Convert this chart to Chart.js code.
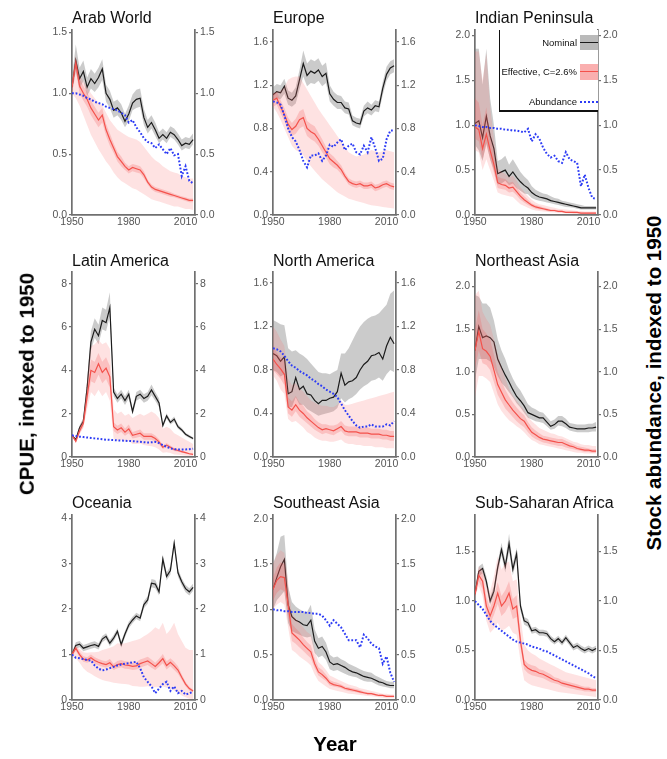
<!DOCTYPE html>
<html><head><meta charset="utf-8">
<script src="https://cdn.jsdelivr.net/npm/chart.js@4.4.1/dist/chart.umd.min.js"></script>
<style>
body{margin:0;background:#fff;}
#page{position:relative;width:667px;height:759px;overflow:hidden;background:#fff;font-family:"Liberation Sans",Arial,sans-serif;}
.panel{position:absolute;}
.ptitle{position:absolute;font-size:16px;line-height:16px;color:#111;white-space:nowrap;}
.big{position:absolute;font-weight:bold;font-size:20.5px;line-height:20.5px;white-space:nowrap;color:#000;}
.rot{transform:translate(-50%,-50%) rotate(-90deg);}
.leg{position:absolute;font-size:9.5px;line-height:10px;color:#111;white-space:nowrap;text-align:right;}
.ln{position:absolute;background:#111;}
</style></head>
<body><div id="page"></div>
<script>
const years = [1950,1952,1954,1956,1958,1960,1962,1964,1966,1968,1970,1972,1974,1976,1978,1980,1982,1984,1986,1988,1990,1992,1994,1996,1998,2000,2002,2004,2006,2008,2010,2012,2014];

// ---- Arab World
const arabNominal = [1.05,1.27,1.12,1.18,1.05,1.12,1.08,1.13,1.20,1.00,0.95,0.86,0.88,0.84,0.77,0.83,0.92,0.95,0.96,0.80,0.72,0.76,0.70,0.63,0.66,0.63,0.68,0.66,0.62,0.57,0.59,0.58,0.62];
const arabNominalLow = [1.00,1.18,1.04,1.10,0.98,1.04,1.01,1.05,1.11,0.93,0.88,0.80,0.82,0.78,0.72,0.77,0.86,0.88,0.89,0.74,0.67,0.71,0.65,0.59,0.62,0.59,0.64,0.62,0.58,0.53,0.55,0.54,0.58];
const arabNominalHigh = [1.12,1.40,1.21,1.27,1.13,1.20,1.16,1.21,1.28,1.07,1.02,0.93,0.95,0.91,0.83,0.90,0.99,1.03,1.04,0.87,0.78,0.82,0.76,0.68,0.71,0.68,0.73,0.71,0.67,0.62,0.64,0.63,0.67];
const arabEffective = [1.05,1.25,1.06,1.00,0.95,0.88,0.83,0.78,0.82,0.70,0.62,0.55,0.48,0.44,0.40,0.37,0.39,0.38,0.37,0.33,0.27,0.23,0.21,0.20,0.19,0.18,0.17,0.16,0.15,0.14,0.13,0.12,0.12];
const arabEffInnerLow = [1.00,1.19,1.00,0.94,0.89,0.82,0.77,0.72,0.76,0.65,0.57,0.51,0.44,0.40,0.37,0.34,0.36,0.35,0.34,0.30,0.25,0.21,0.19,0.18,0.17,0.16,0.15,0.145,0.135,0.125,0.115,0.105,0.105];
const arabEffInnerHigh = [1.10,1.31,1.12,1.06,1.01,0.94,0.89,0.84,0.88,0.75,0.67,0.59,0.52,0.48,0.43,0.40,0.42,0.41,0.40,0.36,0.29,0.25,0.23,0.22,0.21,0.20,0.19,0.175,0.165,0.155,0.145,0.135,0.135];
const arabEffOuterLow = [1.00,0.96,0.90,0.82,0.74,0.66,0.60,0.54,0.49,0.44,0.40,0.35,0.31,0.28,0.26,0.24,0.22,0.21,0.19,0.17,0.15,0.13,0.12,0.11,0.10,0.09,0.08,0.07,0.07,0.06,0.05,0.05,0.04];
const arabEffOuterHigh = [1.12,1.28,1.14,1.10,1.05,1.00,0.96,0.92,0.90,0.84,0.78,0.74,0.70,0.68,0.66,0.64,0.63,0.62,0.60,0.56,0.52,0.48,0.45,0.43,0.40,0.38,0.36,0.35,0.34,0.32,0.31,0.30,0.30];
const arabAbundance = [1.00,1.00,0.99,0.98,0.96,0.95,0.93,0.92,0.91,0.89,0.88,0.87,0.86,0.84,0.82,0.76,0.78,0.72,0.68,0.63,0.60,0.59,0.55,0.58,0.54,0.50,0.55,0.49,0.50,0.32,0.40,0.28,0.26];

// ---- Europe
const euNominal = [1.11,1.14,1.13,1.19,1.08,1.06,1.10,1.25,1.40,1.29,1.33,1.31,1.34,1.28,1.31,1.12,1.07,1.04,1.04,0.99,0.98,0.87,0.85,0.84,0.96,0.99,0.97,1.01,1.00,1.17,1.30,1.36,1.38];
const euNominalLow = [1.05,1.08,1.07,1.12,1.02,1.00,1.03,1.16,1.28,1.19,1.22,1.21,1.24,1.19,1.22,1.05,1.01,0.98,0.98,0.94,0.93,0.83,0.81,0.80,0.91,0.94,0.92,0.96,0.95,1.11,1.24,1.30,1.32];
const euNominalHigh = [1.18,1.21,1.20,1.26,1.15,1.13,1.18,1.34,1.52,1.40,1.44,1.42,1.45,1.38,1.41,1.20,1.14,1.11,1.10,1.05,1.04,0.92,0.90,0.89,1.01,1.05,1.02,1.06,1.05,1.23,1.37,1.42,1.44];
const euEffective = [1.06,1.08,1.00,0.93,0.84,0.79,0.82,0.88,0.90,0.80,0.77,0.75,0.70,0.64,0.58,0.52,0.49,0.46,0.42,0.36,0.31,0.29,0.28,0.29,0.27,0.27,0.28,0.25,0.26,0.28,0.29,0.27,0.26];
const euEffInnerLow = [1.00,1.02,0.94,0.87,0.78,0.73,0.75,0.80,0.82,0.73,0.70,0.68,0.64,0.58,0.53,0.47,0.44,0.42,0.38,0.33,0.28,0.26,0.25,0.26,0.24,0.24,0.25,0.22,0.23,0.25,0.26,0.24,0.23];
const euEffInnerHigh = [1.12,1.14,1.06,0.99,0.90,0.85,0.89,0.96,0.98,0.87,0.84,0.82,0.76,0.70,0.63,0.57,0.54,0.50,0.46,0.39,0.34,0.32,0.31,0.32,0.30,0.30,0.31,0.28,0.29,0.31,0.32,0.30,0.29];
const euEffOuterLow = [1.00,0.95,0.88,0.80,0.72,0.64,0.60,0.58,0.55,0.50,0.45,0.41,0.37,0.33,0.30,0.27,0.24,0.21,0.19,0.17,0.15,0.14,0.13,0.12,0.11,0.10,0.09,0.085,0.08,0.075,0.07,0.065,0.06];
const euEffOuterHigh = [1.12,1.14,1.15,1.18,1.25,1.27,1.28,1.28,1.22,1.16,1.10,1.04,0.98,0.93,0.88,0.83,0.78,0.73,0.68,0.63,0.58,0.56,0.54,0.55,0.56,0.58,0.60,0.59,0.58,0.59,0.60,0.59,0.58];
const euAbundance = [1.05,1.04,1.02,0.92,0.80,0.72,0.68,0.60,0.50,0.44,0.55,0.55,0.57,0.50,0.55,0.65,0.63,0.67,0.70,0.60,0.64,0.66,0.58,0.56,0.64,0.58,0.72,0.62,0.50,0.52,0.70,0.78,0.78];

// ---- Indian Peninsula
const inNominal = [1.02,1.05,0.86,1.10,0.88,0.74,0.46,0.48,0.50,0.43,0.48,0.42,0.37,0.33,0.30,0.25,0.22,0.20,0.19,0.18,0.16,0.15,0.14,0.13,0.12,0.11,0.10,0.09,0.08,0.08,0.08,0.08,0.08];
const inNominalLow = [0.78,0.72,0.60,0.80,0.62,0.50,0.34,0.35,0.38,0.33,0.35,0.30,0.27,0.24,0.23,0.19,0.17,0.16,0.15,0.14,0.13,0.12,0.11,0.10,0.09,0.085,0.08,0.07,0.06,0.06,0.06,0.06,0.06];
const inNominalHigh = [1.85,1.85,1.45,1.85,1.30,1.00,0.60,0.62,0.66,0.56,0.62,0.55,0.48,0.43,0.39,0.32,0.28,0.26,0.24,0.23,0.21,0.19,0.18,0.16,0.15,0.14,0.13,0.12,0.11,0.10,0.10,0.10,0.10];
const inEffective = [0.98,0.95,0.74,0.90,0.72,0.56,0.36,0.34,0.33,0.30,0.31,0.26,0.21,0.17,0.14,0.11,0.09,0.08,0.07,0.06,0.05,0.05,0.04,0.04,0.03,0.03,0.03,0.03,0.02,0.02,0.02,0.02,0.02];
const inEffInnerLow = [0.85,0.82,0.62,0.78,0.62,0.47,0.30,0.29,0.28,0.25,0.26,0.22,0.17,0.14,0.11,0.09,0.07,0.06,0.055,0.045,0.04,0.04,0.03,0.03,0.025,0.025,0.02,0.02,0.015,0.015,0.015,0.015,0.015];
const inEffInnerHigh = [1.30,1.25,1.00,1.20,0.90,0.68,0.43,0.41,0.40,0.36,0.37,0.31,0.25,0.21,0.17,0.13,0.11,0.10,0.085,0.075,0.065,0.06,0.05,0.05,0.04,0.04,0.04,0.035,0.03,0.03,0.03,0.03,0.03];
const inEffOuterLow = [0.72,0.70,0.50,0.62,0.50,0.38,0.25,0.23,0.22,0.21,0.20,0.16,0.12,0.10,0.08,0.06,0.05,0.045,0.04,0.035,0.03,0.028,0.025,0.022,0.02,0.018,0.015,0.013,0.01,0.01,0.01,0.01,0.01];
const inEffOuterHigh = [1.82,1.82,1.50,1.80,1.20,0.85,0.52,0.48,0.46,0.42,0.44,0.38,0.31,0.26,0.21,0.17,0.14,0.12,0.11,0.10,0.09,0.08,0.07,0.065,0.06,0.055,0.05,0.045,0.045,0.04,0.04,0.04,0.04];
const inAbundance = [1.00,0.99,0.98,0.98,0.97,0.97,0.96,0.96,0.95,0.95,0.94,0.94,0.93,0.92,0.96,0.82,0.90,0.85,0.75,0.68,0.64,0.66,0.60,0.58,0.70,0.62,0.60,0.58,0.32,0.45,0.30,0.19,0.18];

// ---- Latin America
const laNominal = [1.00,0.80,1.35,1.65,3.20,5.30,5.90,5.60,6.30,6.20,6.90,3.00,2.70,2.90,2.60,2.90,2.10,2.80,2.90,2.70,2.80,3.10,2.80,2.50,1.45,1.90,1.60,1.75,1.40,1.25,1.05,0.95,0.85];
const laNominalLow = [0.95,0.75,1.25,1.50,2.90,4.90,5.50,5.20,5.90,5.80,6.50,2.80,2.50,2.70,2.40,2.70,1.95,2.60,2.70,2.50,2.60,2.85,2.60,2.30,1.35,1.78,1.50,1.63,1.30,1.16,0.98,0.88,0.79];
const laNominalHigh = [1.05,0.85,1.45,1.80,3.50,5.80,6.40,6.10,6.90,6.80,7.60,3.20,2.90,3.10,2.80,3.10,2.25,3.00,3.10,2.90,3.00,3.35,3.00,2.70,1.55,2.02,1.70,1.87,1.50,1.34,1.12,1.02,0.91];
const laEffective = [1.00,0.72,1.20,1.55,2.80,4.00,3.90,4.30,3.90,4.10,3.70,1.40,1.25,1.35,1.15,1.30,1.00,1.05,1.10,0.95,0.95,0.95,0.85,0.70,0.45,0.55,0.45,0.35,0.30,0.25,0.20,0.15,0.12];
const laEffInnerLow = [0.95,0.66,1.08,1.38,2.45,3.50,3.40,3.80,3.40,3.60,3.20,1.20,1.06,1.15,0.98,1.10,0.85,0.89,0.93,0.80,0.80,0.80,0.71,0.58,0.37,0.45,0.37,0.28,0.24,0.20,0.16,0.12,0.095];
const laEffInnerHigh = [1.05,0.78,1.32,1.72,3.15,4.50,4.40,4.80,4.40,4.60,4.20,1.60,1.44,1.55,1.32,1.50,1.15,1.21,1.27,1.10,1.10,1.10,0.99,0.82,0.53,0.65,0.53,0.42,0.36,0.30,0.24,0.18,0.145];
const laEffOuterLow = [1.00,0.65,1.05,1.35,2.20,3.00,2.80,3.10,2.80,3.00,2.60,0.85,0.75,0.80,0.70,0.75,0.60,0.60,0.62,0.55,0.52,0.50,0.45,0.35,0.20,0.22,0.18,0.12,0.10,0.08,0.06,0.05,0.04];
const laEffOuterHigh = [1.00,0.80,1.40,1.80,3.50,5.10,5.20,5.40,5.20,5.30,5.00,2.20,2.00,2.10,1.90,2.00,1.80,1.90,2.00,1.90,2.00,2.10,2.00,1.80,1.30,1.40,1.30,1.10,1.00,0.90,0.80,0.70,0.60];
const laAbundance = [1.00,0.97,0.94,0.92,0.90,0.88,0.86,0.84,0.82,0.80,0.79,0.78,0.77,0.76,0.75,0.74,0.73,0.72,0.70,0.68,0.67,0.68,0.70,0.64,0.55,0.47,0.40,0.36,0.35,0.35,0.35,0.36,0.38];

// ---- North America
const naNominal = [0.95,0.93,0.88,0.92,0.58,0.60,0.73,0.62,0.65,0.58,0.57,0.52,0.49,0.52,0.52,0.54,0.55,0.60,0.77,0.66,0.69,0.70,0.73,0.80,0.85,0.88,0.93,0.94,0.96,0.90,1.02,1.10,1.04];
const naNominalLow = [0.80,0.78,0.74,0.76,0.46,0.46,0.55,0.48,0.48,0.44,0.42,0.40,0.38,0.39,0.40,0.41,0.42,0.45,0.54,0.50,0.53,0.55,0.58,0.62,0.65,0.67,0.70,0.71,0.73,0.70,0.76,0.80,0.78];
const naNominalHigh = [1.26,1.24,1.22,1.21,1.00,0.97,0.98,0.95,0.93,0.90,0.86,0.82,0.78,0.77,0.77,0.76,0.78,0.80,0.95,0.95,1.00,1.07,1.14,1.20,1.24,1.27,1.29,1.30,1.32,1.36,1.40,1.50,1.53];
const naEffective = [0.90,0.85,0.81,0.76,0.46,0.43,0.48,0.43,0.40,0.36,0.33,0.30,0.27,0.25,0.26,0.25,0.24,0.26,0.28,0.24,0.23,0.23,0.23,0.22,0.22,0.22,0.21,0.21,0.21,0.20,0.20,0.19,0.19];
const naEffInnerLow = [0.80,0.76,0.72,0.66,0.40,0.37,0.42,0.37,0.34,0.31,0.28,0.25,0.23,0.21,0.22,0.21,0.20,0.22,0.24,0.20,0.19,0.19,0.19,0.18,0.18,0.18,0.17,0.17,0.17,0.16,0.16,0.15,0.15];
const naEffInnerHigh = [1.02,0.96,0.92,0.88,0.55,0.51,0.56,0.50,0.47,0.42,0.39,0.35,0.32,0.30,0.30,0.29,0.29,0.30,0.33,0.29,0.28,0.28,0.28,0.27,0.27,0.27,0.26,0.26,0.26,0.25,0.25,0.24,0.24];
const naEffOuterLow = [0.75,0.70,0.62,0.58,0.35,0.32,0.33,0.30,0.27,0.23,0.21,0.18,0.16,0.15,0.15,0.14,0.14,0.15,0.16,0.13,0.12,0.12,0.11,0.11,0.10,0.10,0.10,0.09,0.09,0.09,0.08,0.08,0.08];
const naEffOuterHigh = [1.20,1.15,1.08,1.02,0.72,0.66,0.68,0.63,0.60,0.56,0.52,0.50,0.48,0.47,0.47,0.46,0.46,0.48,0.52,0.48,0.48,0.49,0.50,0.51,0.52,0.53,0.54,0.55,0.56,0.57,0.58,0.59,0.60];
const naAbundance = [1.00,0.99,0.97,0.93,0.88,0.84,0.82,0.79,0.77,0.75,0.72,0.70,0.67,0.65,0.62,0.60,0.58,0.55,0.49,0.43,0.38,0.33,0.29,0.27,0.28,0.28,0.30,0.28,0.28,0.28,0.30,0.29,0.33];

// ---- Northeast Asia
const neNominal = [1.25,1.53,1.40,1.42,1.40,1.35,1.15,1.05,0.96,0.88,0.79,0.71,0.66,0.60,0.52,0.50,0.48,0.46,0.46,0.41,0.36,0.38,0.42,0.42,0.39,0.35,0.34,0.33,0.33,0.33,0.34,0.34,0.35];
const neNominalLow = [0.90,1.15,1.15,1.15,1.12,1.05,0.95,0.87,0.82,0.76,0.70,0.63,0.58,0.52,0.46,0.44,0.42,0.41,0.40,0.36,0.32,0.33,0.37,0.36,0.34,0.31,0.30,0.29,0.29,0.29,0.29,0.30,0.30];
const neNominalHigh = [1.90,1.88,1.80,1.80,1.75,1.60,1.38,1.25,1.15,1.02,0.92,0.84,0.78,0.70,0.62,0.58,0.56,0.53,0.52,0.47,0.42,0.44,0.48,0.48,0.45,0.40,0.39,0.38,0.38,0.38,0.39,0.39,0.41];
const neEffective = [1.25,1.47,1.27,1.24,1.18,1.02,0.85,0.76,0.67,0.61,0.55,0.50,0.45,0.42,0.35,0.29,0.26,0.23,0.21,0.20,0.19,0.18,0.17,0.17,0.15,0.13,0.12,0.10,0.09,0.08,0.08,0.07,0.07];
const neEffInnerLow = [1.05,1.25,1.10,1.08,1.02,0.88,0.73,0.65,0.57,0.52,0.47,0.42,0.38,0.35,0.29,0.24,0.21,0.19,0.17,0.16,0.15,0.14,0.13,0.13,0.11,0.10,0.09,0.08,0.07,0.06,0.06,0.05,0.05];
const neEffInnerHigh = [1.50,1.72,1.50,1.45,1.38,1.20,1.00,0.89,0.79,0.71,0.64,0.58,0.53,0.49,0.41,0.35,0.31,0.28,0.25,0.24,0.23,0.22,0.21,0.21,0.19,0.17,0.15,0.13,0.12,0.11,0.10,0.09,0.09];
const neEffOuterLow = [0.70,0.95,0.95,0.92,0.88,0.75,0.62,0.54,0.48,0.43,0.40,0.36,0.33,0.29,0.24,0.20,0.18,0.15,0.14,0.13,0.12,0.11,0.10,0.09,0.08,0.07,0.06,0.05,0.05,0.04,0.04,0.04,0.04];
const neEffOuterHigh = [1.90,1.95,1.70,1.62,1.55,1.38,1.20,1.05,0.92,0.80,0.72,0.66,0.60,0.55,0.48,0.42,0.38,0.34,0.32,0.30,0.28,0.27,0.25,0.24,0.22,0.20,0.18,0.17,0.15,0.14,0.14,0.13,0.13];

// ---- Oceania
const ocNominal = [1.00,1.20,1.23,1.14,1.17,1.20,1.22,1.18,1.34,1.40,1.25,1.36,1.51,1.22,1.45,1.65,1.76,1.85,1.80,2.10,2.20,2.57,2.55,2.38,3.10,2.72,2.85,3.45,2.80,2.60,2.45,2.38,2.48];
const ocNominalLow = [0.95,1.13,1.16,1.07,1.10,1.13,1.15,1.11,1.27,1.33,1.18,1.29,1.44,1.15,1.38,1.58,1.69,1.78,1.73,2.02,2.12,2.48,2.46,2.30,3.00,2.63,2.76,3.35,2.71,2.52,2.37,2.30,2.40];
const ocNominalHigh = [1.05,1.27,1.30,1.21,1.24,1.27,1.29,1.25,1.41,1.47,1.32,1.43,1.58,1.29,1.52,1.72,1.83,1.92,1.87,2.18,2.28,2.66,2.64,2.46,3.20,2.81,2.94,3.55,2.89,2.68,2.53,2.46,2.56];
const ocEffective = [1.00,1.14,1.00,0.90,0.88,0.93,0.87,0.83,0.80,0.78,0.82,0.73,0.78,0.80,0.77,0.76,0.74,0.75,0.80,0.83,0.86,0.80,0.74,0.82,0.91,0.76,0.83,0.75,0.66,0.50,0.35,0.25,0.20];
const ocEffInnerLow = [0.96,1.08,0.94,0.84,0.82,0.86,0.80,0.76,0.73,0.71,0.74,0.66,0.70,0.72,0.69,0.68,0.66,0.67,0.71,0.74,0.77,0.71,0.66,0.73,0.81,0.67,0.74,0.66,0.58,0.44,0.30,0.21,0.17];
const ocEffInnerHigh = [1.04,1.20,1.06,0.96,0.94,1.00,0.94,0.90,0.87,0.85,0.90,0.80,0.86,0.88,0.85,0.84,0.82,0.83,0.89,0.92,0.95,0.89,0.82,0.91,1.01,0.85,0.92,0.84,0.74,0.56,0.40,0.29,0.23];
const ocEffOuterLow = [0.95,0.92,0.82,0.70,0.62,0.58,0.52,0.48,0.44,0.42,0.40,0.38,0.37,0.36,0.35,0.34,0.31,0.30,0.29,0.29,0.30,0.29,0.28,0.28,0.30,0.27,0.25,0.21,0.16,0.10,0.06,0.03,0.02];
const ocEffOuterHigh = [1.05,1.18,1.12,1.05,1.04,1.05,1.05,1.06,1.10,1.12,1.15,1.18,1.25,1.24,1.25,1.27,1.30,1.32,1.35,1.40,1.45,1.52,1.60,1.55,1.70,1.45,1.55,1.70,1.45,1.30,1.15,1.10,1.10];
const ocAbundance = [1.00,0.93,0.92,0.90,0.88,0.87,0.76,0.69,0.65,0.67,0.70,0.73,0.76,0.78,0.80,0.81,0.83,0.84,0.70,0.50,0.40,0.30,0.15,0.25,0.35,0.40,0.20,0.30,0.15,0.20,0.12,0.15,0.18];

// ---- Southeast Asia
const seNominal = [1.22,1.35,1.47,1.55,1.05,0.92,0.88,0.86,0.83,0.82,0.88,0.65,0.57,0.59,0.53,0.42,0.39,0.40,0.38,0.36,0.33,0.31,0.30,0.28,0.26,0.25,0.24,0.22,0.20,0.19,0.17,0.16,0.16];
const seNominalLow = [1.00,1.10,1.15,1.20,0.85,0.76,0.74,0.72,0.70,0.69,0.70,0.52,0.47,0.49,0.44,0.34,0.32,0.33,0.31,0.29,0.27,0.26,0.25,0.23,0.21,0.20,0.20,0.18,0.16,0.15,0.14,0.13,0.13];
const seNominalHigh = [1.50,1.62,1.80,1.82,1.25,1.08,1.03,1.00,0.98,0.97,1.05,0.78,0.68,0.70,0.63,0.50,0.47,0.48,0.45,0.43,0.40,0.38,0.36,0.34,0.32,0.31,0.30,0.27,0.25,0.23,0.21,0.20,0.20];
const seEffective = [1.22,1.32,1.36,1.35,1.05,0.74,0.70,0.66,0.61,0.57,0.53,0.40,0.31,0.28,0.24,0.19,0.17,0.16,0.15,0.13,0.12,0.11,0.10,0.09,0.08,0.07,0.07,0.06,0.05,0.05,0.04,0.04,0.04];
const seEffInnerLow = [1.10,1.18,1.22,1.20,0.93,0.65,0.62,0.58,0.54,0.50,0.46,0.35,0.27,0.24,0.21,0.16,0.15,0.14,0.13,0.11,0.10,0.09,0.085,0.075,0.065,0.06,0.06,0.05,0.04,0.04,0.035,0.035,0.035];
const seEffInnerHigh = [1.35,1.46,1.52,1.50,1.18,0.84,0.79,0.75,0.69,0.64,0.60,0.46,0.36,0.33,0.28,0.22,0.20,0.19,0.17,0.15,0.14,0.13,0.12,0.11,0.095,0.085,0.08,0.07,0.06,0.06,0.05,0.05,0.05];
const seEffOuterLow = [1.00,1.05,1.08,1.05,0.80,0.55,0.52,0.48,0.45,0.42,0.38,0.28,0.21,0.18,0.15,0.12,0.11,0.10,0.09,0.08,0.07,0.065,0.06,0.055,0.05,0.045,0.04,0.035,0.03,0.025,0.02,0.02,0.02];
const seEffOuterHigh = [1.50,1.60,1.65,1.62,1.30,0.95,0.90,0.85,0.80,0.75,0.72,0.55,0.42,0.38,0.33,0.27,0.25,0.23,0.21,0.19,0.17,0.16,0.15,0.13,0.12,0.11,0.10,0.09,0.08,0.07,0.07,0.06,0.06];
const seAbundance = [1.00,0.99,0.99,0.98,0.98,0.97,0.97,0.97,0.97,0.96,0.96,0.95,0.95,0.93,0.88,0.82,0.88,0.84,0.80,0.73,0.66,0.66,0.66,0.58,0.72,0.68,0.62,0.59,0.57,0.40,0.48,0.30,0.20];

// ---- Sub-Saharan Africa
const ssNominal = [1.07,1.30,1.33,1.20,1.00,1.10,1.34,1.52,1.35,1.58,1.32,1.48,0.95,0.80,0.78,0.70,0.71,0.68,0.68,0.67,0.62,0.59,0.62,0.58,0.63,0.58,0.53,0.55,0.52,0.50,0.52,0.50,0.52];
const ssNominalLow = [1.03,1.25,1.28,1.15,0.96,1.05,1.29,1.46,1.29,1.50,1.26,1.42,0.90,0.76,0.74,0.67,0.68,0.65,0.65,0.64,0.59,0.56,0.59,0.55,0.60,0.55,0.50,0.52,0.49,0.47,0.49,0.47,0.49];
const ssNominalHigh = [1.11,1.35,1.38,1.25,1.04,1.15,1.39,1.59,1.41,1.68,1.38,1.54,1.00,0.84,0.82,0.73,0.74,0.71,0.71,0.70,0.65,0.62,0.65,0.61,0.66,0.61,0.56,0.58,0.55,0.53,0.55,0.53,0.55];
const ssEffective = [1.07,1.26,1.20,0.95,0.85,0.95,1.08,0.95,1.00,1.08,0.92,0.95,0.60,0.36,0.32,0.30,0.29,0.27,0.26,0.24,0.22,0.20,0.19,0.17,0.16,0.15,0.14,0.13,0.12,0.11,0.11,0.10,0.10];
const ssEffInnerLow = [1.03,1.20,1.12,0.86,0.77,0.86,0.97,0.85,0.89,0.96,0.82,0.84,0.53,0.31,0.27,0.25,0.24,0.23,0.22,0.20,0.18,0.17,0.16,0.14,0.13,0.12,0.11,0.10,0.095,0.085,0.085,0.08,0.08];
const ssEffInnerHigh = [1.11,1.32,1.28,1.04,0.93,1.04,1.19,1.05,1.11,1.20,1.02,1.06,0.67,0.41,0.37,0.35,0.34,0.31,0.30,0.28,0.26,0.23,0.22,0.20,0.19,0.18,0.17,0.16,0.145,0.135,0.135,0.12,0.12];
const ssEffOuterLow = [1.05,1.15,1.05,0.80,0.68,0.72,0.78,0.70,0.72,0.75,0.68,0.66,0.40,0.20,0.17,0.15,0.14,0.13,0.12,0.11,0.10,0.09,0.08,0.075,0.07,0.065,0.06,0.055,0.05,0.045,0.04,0.035,0.03];
const ssEffOuterHigh = [1.10,1.35,1.32,1.15,1.10,1.25,1.45,1.32,1.38,1.40,1.20,1.22,0.85,0.56,0.50,0.47,0.45,0.42,0.40,0.38,0.36,0.34,0.32,0.30,0.28,0.27,0.26,0.25,0.24,0.23,0.22,0.21,0.20];
const ssAbundance = [1.00,0.96,0.92,0.86,0.80,0.76,0.73,0.70,0.67,0.64,0.61,0.59,0.58,0.57,0.56,0.54,0.53,0.52,0.50,0.49,0.47,0.45,0.43,0.41,0.39,0.37,0.35,0.33,0.31,0.29,0.27,0.24,0.22];

// Panel titles and y-axis tick settings
const panelTitles = ["Arab World","Europe","Indian Peninsula","Latin America","North America","Northeast Asia","Oceania","Southeast Asia","Sub-Saharan Africa"];
const yMaxes = [1.52,1.71,2.06,8.54,1.70,2.17,4.07,2.04,1.87];
const yStepSizes = [0.5,0.4,0.5,2,0.4,0.5,1,0.5,0.5];
const yDecimals = [1,1,1,0,1,1,0,1,1];
const xTicks = [1950,1980,2010];

const panelSeries = [
 [arabNominal,arabNominalLow,arabNominalHigh,arabEffective,arabEffInnerLow,arabEffInnerHigh,arabEffOuterLow,arabEffOuterHigh,arabAbundance],
 [euNominal,euNominalLow,euNominalHigh,euEffective,euEffInnerLow,euEffInnerHigh,euEffOuterLow,euEffOuterHigh,euAbundance],
 [inNominal,inNominalLow,inNominalHigh,inEffective,inEffInnerLow,inEffInnerHigh,inEffOuterLow,inEffOuterHigh,inAbundance],
 [laNominal,laNominalLow,laNominalHigh,laEffective,laEffInnerLow,laEffInnerHigh,laEffOuterLow,laEffOuterHigh,laAbundance],
 [naNominal,naNominalLow,naNominalHigh,naEffective,naEffInnerLow,naEffInnerHigh,naEffOuterLow,naEffOuterHigh,naAbundance],
 [neNominal,neNominalLow,neNominalHigh,neEffective,neEffInnerLow,neEffInnerHigh,neEffOuterLow,neEffOuterHigh,null],
 [ocNominal,ocNominalLow,ocNominalHigh,ocEffective,ocEffInnerLow,ocEffInnerHigh,ocEffOuterLow,ocEffOuterHigh,ocAbundance],
 [seNominal,seNominalLow,seNominalHigh,seEffective,seEffInnerLow,seEffInnerHigh,seEffOuterLow,seEffOuterHigh,seAbundance],
 [ssNominal,ssNominalLow,ssNominalHigh,ssEffective,ssEffInnerLow,ssEffInnerHigh,ssEffOuterLow,ssEffOuterHigh,ssAbundance]
];

// ---- layout (page pixels)
const colLeft = [72, 273, 475];
const rowTop = [30, 272, 515];
const titleTop = [9.5, 253, 495];
const plotW = 123, plotH = 185, padL = 40, padR = 40, padT = 30, padB = 22;

const FONT = '"Liberation Sans", Arial, sans-serif';
const AXIS = '#707070';
const TICKC = '#555555';
const page = document.getElementById('page');

function xy(arr){ return arr.map((v,i)=>({x:years[i], y:v})); }
function ds(arr, o){
  return Object.assign({data:xy(arr), pointRadius:0, borderWidth:0, borderColor:'rgba(0,0,0,0)', tension:0, fill:false, yAxisID:'y', xAxisID:'x'}, o);
}
function yAxis(pos, i){
  return {
    type:'linear', position:pos, min:0, max:yMaxes[i], display:true,
    border:{display:true, color:AXIS, width:1.7},
    grid:{drawOnChartArea:false, drawTicks:true, tickLength:3, color:AXIS, lineWidth:1.2},
    ticks:{stepSize:yStepSizes[i], includeBounds:false, color:TICKC, font:{family:FONT, size:10.5}, padding:2,
           callback:v=>Number(v).toFixed(yDecimals[i])},
    afterFit:s=>{s.width = (pos==='left'?padL:padR);}
  };
}

for (let i=0;i<9;i++){
  const r = Math.floor(i/3), c = i%3;
  const [nom,nomLo,nomHi,eff,inLo,inHi,outLo,outHi,ab] = panelSeries[i];
  const cv = document.createElement('canvas');
  cv.width = padL+plotW+padR; cv.height = padT+plotH+padB;
  cv.className = 'panel';
  cv.style.left = (colLeft[c]-padL)+'px';
  cv.style.top = (rowTop[r]-padT)+'px';
  cv.style.width = cv.width+'px'; cv.style.height = cv.height+'px';
  page.appendChild(cv);

  const t = document.createElement('div');
  t.className='ptitle'; t.textContent = panelTitles[i];
  t.style.left = colLeft[c]+'px'; t.style.top = titleTop[r]+'px';
  page.appendChild(t);

  const datasets = [
    ds(nomLo,{order:9}),
    ds(nomHi,{order:8, fill:'-1', backgroundColor:'rgba(130,130,130,0.42)'}),
    ds(nom,{order:7, borderColor:'#1c1c1c', borderWidth:1.2}),
    ds(outLo,{order:6}),
    ds(outHi,{order:5, fill:'-1', backgroundColor:'rgba(250,110,110,0.2)'}),
    ds(inLo,{order:4}),
    ds(inHi,{order:3, fill:'-1', backgroundColor:'rgba(245,90,90,0.25)'}),
    ds(eff,{order:2, borderColor:'#f4524c', borderWidth:1.2})
  ];
  if (ab) datasets.push(ds(ab,{order:1, borderColor:'#2d3cf5', borderWidth:2, borderDash:[1.8,1.8], borderCapStyle:'butt'}));

  new Chart(cv, {
    type:'line',
    data:{datasets},
    options:{
      responsive:false, animation:false, events:[], devicePixelRatio:1,
      layout:{padding:{top:padT, left:0, right:0, bottom:0}},
      plugins:{legend:{display:false}, tooltip:{enabled:false}, title:{display:false}},
      scales:{
        x:{type:'linear', min:1950, max:2015,
           border:{display:true, color:AXIS, width:1.7},
           grid:{drawOnChartArea:false, drawTicks:false},
           ticks:{stepSize:30, includeBounds:false, color:TICKC, font:{family:FONT,size:10.5}, padding:1,
                  maxRotation:0, autoSkip:false, callback:v=>xTicks.includes(v)?String(v):''},
           afterFit:s=>{s.height = padB;}},
        y:yAxis('left', i),
        y2:yAxis('right', i)
      }
    }
  });
}

// ---- legend (inside Indian Peninsula panel)
function addLine(x,y,w,h,color){ const d=document.createElement('div'); d.className='ln'; d.style.left=x+'px'; d.style.top=y+'px'; d.style.width=w+'px'; d.style.height=h+'px'; if(color) d.style.background=color; page.appendChild(d); return d; }
addLine(499,30,99,81,'#fff');
addLine(498.5,30,1.5,81,'#111');
addLine(498.5,110,99.5,1.5,'#111');
const legendItems = [["Nominal",43],["Effective, C=2.6%",72],["Abundance",101.5]];
legendItems.forEach(([txt,y])=>{
  const d=document.createElement('div'); d.className='leg'; d.textContent=txt;
  d.style.right=(667-577)+'px'; d.style.top=(y-5)+'px'; page.appendChild(d);
});
addLine(580,35,18,15,'rgba(130,130,130,0.55)');
addLine(580,42,18,1.4,'#1c1c1c');
addLine(580,63.5,18,16.5,'rgba(245,95,95,0.5)');
addLine(580,71,18,1.4,'#f4524c');
const dots = addLine(580,100.5,18,2,'transparent');
dots.style.background = 'repeating-linear-gradient(90deg,#2d3cf5 0 2px,transparent 2px 4px)';

// ---- axis titles
function big(txt, x, y, rot){ const d=document.createElement('div'); d.className='big'+(rot?' rot':''); d.textContent=txt; d.style.left=x+'px'; d.style.top=y+'px'; if(!rot) d.style.transform='translate(-50%,-50%)'; page.appendChild(d); }
big("CPUE, indexed to 1950", 27, 383.5, true);
big("Stock abundance, indexed to 1950", 654, 383, true);
big("Year", 335, 744, false);
</script>
</body></html>
